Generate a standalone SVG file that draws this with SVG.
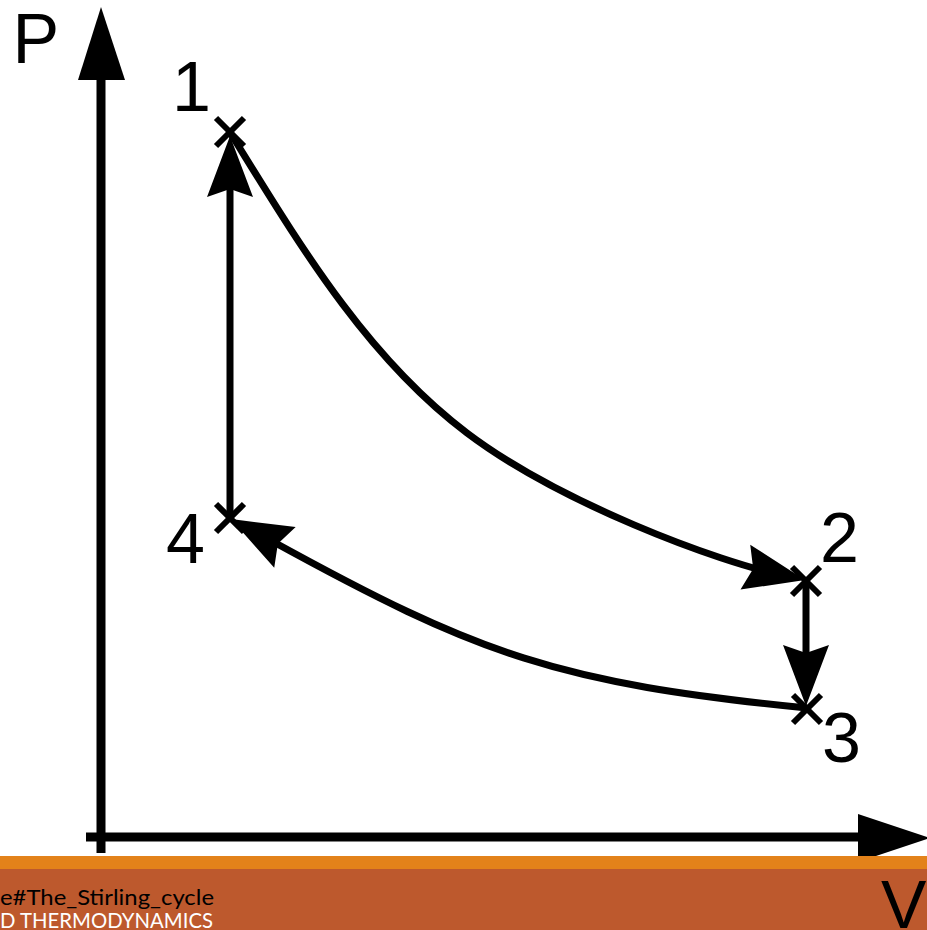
<svg xmlns="http://www.w3.org/2000/svg" xmlns:xlink="http://www.w3.org/1999/xlink" width="927" height="930" viewBox="0 0 927 930">
<style>
.ax{stroke:#000;stroke-width:9;fill:none}
.ln{stroke:#000;stroke-width:7;fill:none}
.xm{stroke:#000;stroke-width:6;fill:none}
.lbl{font-family:"Liberation Sans",Arial,sans-serif;font-size:70px;fill:#000}
.ft{font-family:Lato,"Open Sans",sans-serif;font-size:21px}
</style>
<defs>
<path id="ah" d="M0,0 L-61,-23 L-53,0 L-61,23 Z" fill="#000"/>
<g id="xmark"><line class="xm" x1="-14" y1="-14" x2="14" y2="14"/><line class="xm" x1="14" y1="-14" x2="-14" y2="14"/></g>
</defs>
<rect width="927" height="930" fill="#fff"/>
<g id="axes">
<line class="ax" x1="101" y1="70" x2="101" y2="853"/>
<line class="ax" x1="86" y1="837" x2="865" y2="837"/>
<polygon points="101,7 78,80 125,80" fill="#000"/>
<polygon points="858,814 930,838 858,862" fill="#000"/>
<text class="lbl" x="12.5" y="63">P</text>
</g>
<g id="connectors">
<line class="ln" x1="230" y1="518" x2="230" y2="180"/>
<use xlink:href="#ah" href="#ah" transform="translate(230,136) rotate(-90)"/>
<path class="ln" d="M231,134 C298,242 365,356 467,433 C557,501 715,562 790,577"/>
<use xlink:href="#ah" href="#ah" transform="translate(805,580) rotate(12.2)"/>
<line class="ln" x1="806" y1="580" x2="806" y2="660"/>
<use xlink:href="#ah" href="#ah" transform="translate(806,706) rotate(90)"/>
<path class="ln" d="M807,708 C557,683 480,655.5 270,540"/>
<use xlink:href="#ah" href="#ah" transform="translate(231,519) rotate(-152.2)"/>
</g>
<g id="point1"><use xlink:href="#xmark" href="#xmark" transform="translate(230,132)"/><text class="lbl" x="172" y="111">1</text></g>
<g id="point2"><use xlink:href="#xmark" href="#xmark" transform="translate(806,581)"/><text class="lbl" x="820" y="562">2</text></g>
<g id="point3"><use xlink:href="#xmark" href="#xmark" transform="translate(807,709)"/><text class="lbl" x="822" y="762">3</text></g>
<g id="point4"><use xlink:href="#xmark" href="#xmark" transform="translate(230,518)"/><text class="lbl" x="166" y="563">4</text></g>
<g id="footer">
<rect x="0" y="856" width="927" height="13" fill="#E3821A"/>
<rect x="0" y="869" width="927" height="61" fill="#BD592D"/>
<text class="ft" x="0" y="905" fill="#000" textLength="214" lengthAdjust="spacingAndGlyphs">e#The_Stirling_cycle</text>
<text class="ft" x="0" y="928" fill="#fff" textLength="213" lengthAdjust="spacingAndGlyphs">D THERMODYNAMICS</text>
<text class="lbl" x="881" y="928" style="font-size:68px">V</text>
</g>
</svg>
